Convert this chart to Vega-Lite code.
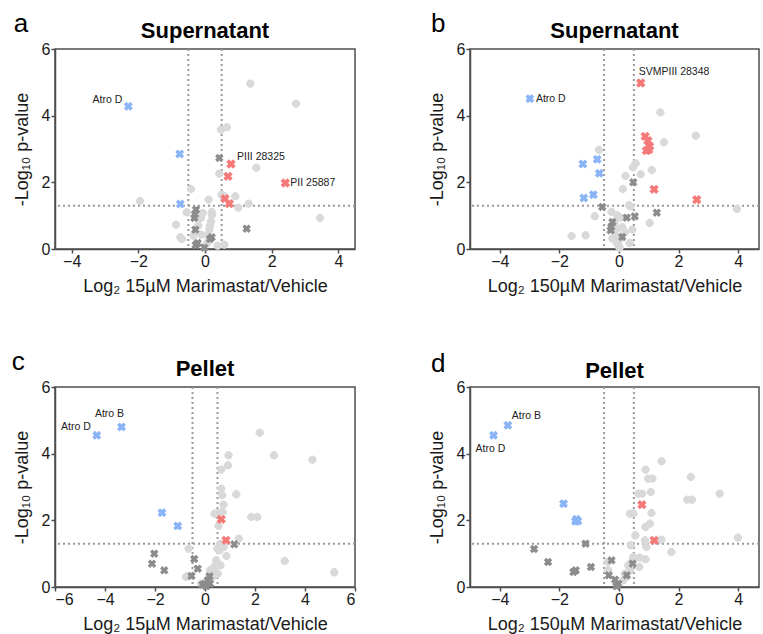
{
"$schema":"https://vega.github.io/schema/vega-lite/v6.json",
"background":"white",
"padding":{"left":11,"top":9,"right":0,"bottom":3},
"columns":2,
"spacing":{"row":52,"column":70},
"config":{
 "font":"Liberation Sans",
 "view":{"stroke":"#4d4d4d","strokeWidth":1.5},
 "axis":{"grid":false,"domainColor":"#4d4d4d","domainWidth":1.5,"tickColor":"#4d4d4d","tickWidth":1.5,"tickSize":4,"labelFontSize":16,"labelColor":"#1a1a1a","titleFontSize":18,"titleFontWeight":"normal","titleColor":"#1a1a1a"},
 "axisX":{"labelPadding":0,"titlePadding":8},
 "axisY":{"labelPadding":1,"titlePadding":10},
 "title":{"fontSize":22,"fontWeight":"bold","color":"#000","frame":"group","offset":8,"dy":40},
 "legend":{"disable":true}
},
"datasets":{
 "a":[
  {"x":1.36,"y":4.96,"c":"other"},{"x":2.73,"y":4.36,"c":"other"},{"x":0.66,"y":3.65,"c":"other"},{"x":0.48,"y":3.58,"c":"other"},{"x":0.43,"y":2.26,"c":"other"},{"x":1.54,"y":2.44,"c":"other"},{"x":-0.42,"y":1.8,"c":"other"},{"x":0.5,"y":1.63,"c":"other"},{"x":0.58,"y":1.58,"c":"other"},{"x":0.91,"y":1.58,"c":"other"},{"x":0.11,"y":1.48,"c":"other"},{"x":1.31,"y":1.36,"c":"other"},{"x":1.0,"y":1.24,"c":"other"},{"x":-1.95,"y":1.44,"c":"other"},{"x":3.45,"y":0.93,"c":"other"},{"x":-0.87,"y":0.73,"c":"other"},{"x":-0.74,"y":0.35,"c":"other"},{"x":-0.69,"y":0.3,"c":"other"},{"x":0.2,"y":1.11,"c":"other"},{"x":0.21,"y":1.02,"c":"other"},{"x":0.18,"y":0.83,"c":"other"},{"x":0.15,"y":0.7,"c":"other"},{"x":0.13,"y":0.58,"c":"other"},{"x":0.08,"y":0.43,"c":"other"},{"x":-0.12,"y":0.93,"c":"other"},{"x":-0.55,"y":1.1,"c":"other"},{"x":0.58,"y":0.13,"c":"other"},{"x":-0.12,"y":0.43,"c":"other"},{"x":0.38,"y":0.1,"c":"other"},{"x":-0.07,"y":1.08,"c":"other"},{"x":0.1,"y":0.25,"c":"other"},{"x":-0.35,"y":0.4,"c":"other"},{"x":-0.2,"y":0.7,"c":"other"},{"x":0.05,"y":0.15,"c":"other"},
  {"x":0.43,"y":2.73,"c":"svmp"},{"x":-0.27,"y":1.18,"c":"svmp"},{"x":-0.3,"y":1.05,"c":"svmp"},{"x":-0.32,"y":0.93,"c":"svmp"},{"x":-0.29,"y":0.58,"c":"svmp"},{"x":1.25,"y":0.61,"c":"svmp"},{"x":-0.22,"y":0.18,"c":"svmp"},{"x":-0.02,"y":0.04,"c":"svmp"},{"x":0.15,"y":0.3,"c":"svmp"},{"x":0.2,"y":0.35,"c":"svmp"},{"x":-0.28,"y":0.12,"c":"svmp"},
  {"x":-2.3,"y":4.28,"c":"down","label":"Atro D"},{"x":-0.76,"y":2.85,"c":"down"},{"x":-0.74,"y":1.35,"c":"down"},
  {"x":0.78,"y":2.55,"c":"up","label":"PIII 28325"},{"x":0.69,"y":2.18,"c":"up"},{"x":2.41,"y":1.98,"c":"up","label":"PII 25887"},{"x":0.6,"y":1.51,"c":"up"},{"x":0.73,"y":1.36,"c":"up"}
 ],
 "b":[
  {"x":1.39,"y":4.1,"c":"other"},{"x":2.58,"y":3.4,"c":"other"},{"x":1.51,"y":3.2,"c":"other"},{"x":-0.67,"y":2.97,"c":"other"},{"x":0.56,"y":2.57,"c":"other"},{"x":0.47,"y":2.45,"c":"other"},{"x":1.1,"y":2.37,"c":"other"},{"x":0.73,"y":2.24,"c":"other"},{"x":0.22,"y":2.19,"c":"other"},{"x":0.13,"y":1.8,"c":"other"},{"x":0.34,"y":1.31,"c":"other"},{"x":0.38,"y":1.28,"c":"other"},{"x":3.96,"y":1.2,"c":"other"},{"x":1.03,"y":0.78,"c":"other"},{"x":-1.59,"y":0.39,"c":"other"},{"x":-1.12,"y":0.41,"c":"other"},{"x":-0.81,"y":0.98,"c":"other"},{"x":-0.25,"y":1.11,"c":"other"},{"x":-0.06,"y":1.01,"c":"other"},{"x":0.06,"y":0.94,"c":"other"},{"x":0.11,"y":0.66,"c":"other"},{"x":0.45,"y":0.58,"c":"other"},{"x":-0.11,"y":0.41,"c":"other"},{"x":-0.06,"y":0.16,"c":"other"},{"x":0.02,"y":0.04,"c":"other"},{"x":0.36,"y":0.18,"c":"other"},{"x":-0.22,"y":0.31,"c":"other"},{"x":0.0,"y":0.26,"c":"other"},{"x":0.0,"y":0.08,"c":"other"},{"x":-0.06,"y":0.6,"c":"other"},{"x":-0.15,"y":0.8,"c":"other"},{"x":0.2,"y":0.5,"c":"other"},
  {"x":-0.56,"y":1.26,"c":"svmp"},{"x":0.48,"y":2.0,"c":"svmp"},{"x":1.27,"y":1.09,"c":"svmp"},{"x":0.53,"y":0.98,"c":"svmp"},{"x":0.26,"y":0.94,"c":"svmp"},{"x":-0.22,"y":0.81,"c":"svmp"},{"x":-0.26,"y":0.66,"c":"svmp"},{"x":-0.28,"y":0.56,"c":"svmp"},{"x":0.11,"y":0.36,"c":"svmp"},
  {"x":-2.99,"y":4.51,"c":"down","label":"Atro D"},{"x":-1.21,"y":2.55,"c":"down"},{"x":-0.73,"y":2.69,"c":"down"},{"x":-0.66,"y":2.27,"c":"down"},{"x":-1.18,"y":1.53,"c":"down"},{"x":-0.86,"y":1.63,"c":"down"},
  {"x":0.73,"y":4.98,"c":"up","label":"SVMPIII 28348"},{"x":0.88,"y":3.38,"c":"up"},{"x":0.97,"y":3.25,"c":"up"},{"x":1.03,"y":3.08,"c":"up"},{"x":0.92,"y":2.95,"c":"up"},{"x":1.0,"y":2.98,"c":"up"},{"x":1.18,"y":1.79,"c":"up"},{"x":2.61,"y":1.48,"c":"up"}
 ],
 "c":[
  {"x":2.19,"y":4.63,"c":"other"},{"x":0.94,"y":3.95,"c":"other"},{"x":2.76,"y":3.95,"c":"other"},{"x":4.3,"y":3.82,"c":"other"},{"x":0.92,"y":3.65,"c":"other"},{"x":0.65,"y":3.52,"c":"other"},{"x":0.65,"y":2.95,"c":"other"},{"x":0.69,"y":2.75,"c":"other"},{"x":1.25,"y":2.78,"c":"other"},{"x":0.74,"y":2.47,"c":"other"},{"x":0.71,"y":2.25,"c":"other"},{"x":0.38,"y":2.2,"c":"other"},{"x":0.52,"y":2.22,"c":"other"},{"x":1.85,"y":2.1,"c":"other"},{"x":2.09,"y":2.1,"c":"other"},{"x":0.54,"y":1.83,"c":"other"},{"x":1.35,"y":1.45,"c":"other"},{"x":3.19,"y":0.78,"c":"other"},{"x":5.17,"y":0.44,"c":"other"},{"x":-0.66,"y":1.15,"c":"other"},{"x":-0.76,"y":0.3,"c":"other"},{"x":-0.72,"y":0.32,"c":"other"},{"x":0.86,"y":0.93,"c":"other"},{"x":0.58,"y":1.1,"c":"other"},{"x":0.49,"y":1.15,"c":"other"},{"x":0.45,"y":0.8,"c":"other"},{"x":0.35,"y":0.6,"c":"other"},{"x":0.51,"y":0.4,"c":"other"},{"x":0.38,"y":0.5,"c":"other"},{"x":-0.15,"y":0.1,"c":"other"},{"x":0.61,"y":1.3,"c":"other"},{"x":0.75,"y":1.2,"c":"other"},{"x":0.3,"y":0.3,"c":"other"},{"x":0.2,"y":0.5,"c":"other"},{"x":0.62,"y":0.65,"c":"other"},
  {"x":1.17,"y":1.28,"c":"svmp"},{"x":-2.03,"y":1.0,"c":"svmp"},{"x":-2.12,"y":0.7,"c":"svmp"},{"x":-1.63,"y":0.5,"c":"svmp"},{"x":-0.43,"y":0.84,"c":"svmp"},{"x":-0.29,"y":0.55,"c":"svmp"},{"x":-0.54,"y":0.33,"c":"svmp"},{"x":0.18,"y":0.32,"c":"svmp"},{"x":0.11,"y":0.2,"c":"svmp"},{"x":0.0,"y":0.1,"c":"svmp"},{"x":-0.1,"y":0.07,"c":"svmp"},{"x":0.2,"y":0.1,"c":"svmp"},{"x":0.05,"y":0.02,"c":"svmp"},
  {"x":-4.33,"y":4.55,"c":"down","label":"Atro D"},{"x":-3.34,"y":4.8,"c":"down","label":"Atro B"},{"x":-1.72,"y":2.23,"c":"down"},{"x":-1.09,"y":1.83,"c":"down"},
  {"x":0.65,"y":2.03,"c":"up"},{"x":0.84,"y":1.4,"c":"up"}
 ],
 "d":[
  {"x":1.43,"y":3.77,"c":"other"},{"x":0.89,"y":3.52,"c":"other"},{"x":0.98,"y":3.25,"c":"other"},{"x":1.12,"y":3.25,"c":"other"},{"x":2.41,"y":3.3,"c":"other"},{"x":1.07,"y":2.85,"c":"other"},{"x":0.65,"y":2.8,"c":"other"},{"x":0.78,"y":2.8,"c":"other"},{"x":3.38,"y":2.8,"c":"other"},{"x":2.29,"y":2.62,"c":"other"},{"x":2.45,"y":2.62,"c":"other"},{"x":1.09,"y":2.22,"c":"other"},{"x":0.37,"y":2.2,"c":"other"},{"x":0.48,"y":2.2,"c":"other"},{"x":1.04,"y":1.9,"c":"other"},{"x":0.89,"y":1.8,"c":"other"},{"x":0.55,"y":1.55,"c":"other"},{"x":0.4,"y":1.25,"c":"other"},{"x":0.92,"y":1.2,"c":"other"},{"x":1.42,"y":1.42,"c":"other"},{"x":1.76,"y":1.05,"c":"other"},{"x":3.99,"y":1.48,"c":"other"},{"x":0.7,"y":0.88,"c":"other"},{"x":0.89,"y":0.83,"c":"other"},{"x":0.48,"y":0.9,"c":"other"},{"x":0.45,"y":0.78,"c":"other"},{"x":0.68,"y":0.6,"c":"other"},{"x":-0.38,"y":0.75,"c":"other"},{"x":0.31,"y":0.65,"c":"other"},{"x":0.25,"y":0.3,"c":"other"},{"x":0.37,"y":0.5,"c":"other"},{"x":0.14,"y":0.2,"c":"other"},{"x":0.87,"y":1.4,"c":"other"},{"x":-0.36,"y":0.5,"c":"other"},{"x":0.2,"y":0.4,"c":"other"},
  {"x":-2.85,"y":1.14,"c":"svmp"},{"x":-2.38,"y":0.75,"c":"svmp"},{"x":-1.12,"y":1.3,"c":"svmp"},{"x":-1.53,"y":0.45,"c":"svmp"},{"x":-1.45,"y":0.5,"c":"svmp"},{"x":-0.94,"y":0.6,"c":"svmp"},{"x":-0.25,"y":0.8,"c":"svmp"},{"x":0.46,"y":0.7,"c":"svmp"},{"x":-0.34,"y":0.35,"c":"svmp"},{"x":0.26,"y":0.35,"c":"svmp"},{"x":-0.13,"y":0.22,"c":"svmp"},{"x":-0.02,"y":0.1,"c":"svmp"},{"x":-0.08,"y":0.02,"c":"svmp"},
  {"x":-4.21,"y":4.55,"c":"down","label":"Atro D"},{"x":-3.73,"y":4.85,"c":"down","label":"Atro B"},{"x":-1.86,"y":2.5,"c":"down"},{"x":-1.43,"y":2.03,"c":"down"},{"x":-1.38,"y":1.98,"c":"down"},{"x":-1.46,"y":1.97,"c":"down"},
  {"x":0.77,"y":2.47,"c":"up"},{"x":1.18,"y":1.4,"c":"up"}
 ]
},
"concat":[
 {"width":300,"height":200,"title":{"text":"Supernatant"},
  "layer":[
   {"data":{"values":[{}]},"mark":{"type":"rule","strokeDash":[2,3],"strokeWidth":2,"color":"#9a9a9a"},"encoding":{"x":{"datum":-0.5,"type":"quantitative","scale":{"domain":[-4.5,4.5],"nice":false,"zero":false}}}},
   {"data":{"values":[{}]},"mark":{"type":"rule","strokeDash":[2,3],"strokeWidth":2,"color":"#9a9a9a"},"encoding":{"x":{"datum":0.5,"type":"quantitative","scale":{"domain":[-4.5,4.5],"nice":false,"zero":false}}}},
   {"data":{"values":[{}]},"mark":{"type":"rule","strokeDash":[2,3],"strokeWidth":2,"color":"#9a9a9a"},"encoding":{"y":{"datum":1.3,"type":"quantitative","scale":{"domain":[0,6],"nice":false,"zero":false}}}},
   {"data":{"name":"a"},"mark":{"type":"point","filled":true,"opacity":1,"angle":45},
    "encoding":{
     "x":{"field":"x","type":"quantitative","scale":{"domain":[-4.5,4.5],"nice":false,"zero":false},"axis":{"title":"Log₂ 15µM Marimastat/Vehicle","values":[-4,-2,0,2,4]}},
     "y":{"field":"y","type":"quantitative","scale":{"domain":[0,6],"nice":false,"zero":false},"axis":{"title":"-Log₁₀ p-value","values":[0,2,4,6]}},
     "color":{"field":"c","type":"nominal","scale":{"domain":["other","svmp","down","up"],"range":["#d9d9d9","#8c8c8c","#8ab4f5","#f47a7a"]},"legend":null},
     "shape":{"field":"c","type":"nominal","scale":{"domain":["other","svmp","down","up"],"range":["circle","cross","cross","cross"]},"legend":null},
     "size":{"field":"c","type":"nominal","scale":{"domain":["other","svmp","down","up"],"range":[65,90,90,90]},"legend":null}}},
   {"data":{"name":"a"},"transform":[{"filter":"datum.label == 'Atro D'"}],"mark":{"type":"text","fontSize":10.5,"color":"#222","align":"right","baseline":"middle","dx":-6,"dy":-6},"encoding":{"x":{"field":"x","type":"quantitative","scale":{"domain":[-4.5,4.5],"nice":false,"zero":false}},"y":{"field":"y","type":"quantitative","scale":{"domain":[0,6],"nice":false,"zero":false}},"text":{"field":"label"}}},
   {"data":{"name":"a"},"transform":[{"filter":"datum.label == 'PIII 28325'"}],"mark":{"type":"text","fontSize":10.5,"color":"#222","align":"left","baseline":"middle","dx":6,"dy":-7},"encoding":{"x":{"field":"x","type":"quantitative","scale":{"domain":[-4.5,4.5],"nice":false,"zero":false}},"y":{"field":"y","type":"quantitative","scale":{"domain":[0,6],"nice":false,"zero":false}},"text":{"field":"label"}}},
   {"data":{"name":"a"},"transform":[{"filter":"datum.label == 'PII 25887'"}],"mark":{"type":"text","fontSize":10.5,"color":"#222","align":"left","baseline":"middle","dx":5,"dy":0},"encoding":{"x":{"field":"x","type":"quantitative","scale":{"domain":[-4.5,4.5],"nice":false,"zero":false}},"y":{"field":"y","type":"quantitative","scale":{"domain":[0,6],"nice":false,"zero":false}},"text":{"field":"label"}}},
   {"data":{"values":[{}]},"mark":{"type":"text","fontSize":26,"color":"#000","align":"center","baseline":"alphabetic"},"encoding":{"x":{"datum":-5.52,"type":"quantitative","scale":{"domain":[-4.5,4.5],"nice":false,"zero":false}},"y":{"datum":6.52,"type":"quantitative","scale":{"domain":[0,6],"nice":false,"zero":false}},"text":{"value":"a"}}}
  ]},
 {"width":289,"height":200,"title":{"text":"Supernatant"},
  "layer":[
   {"data":{"values":[{}]},"mark":{"type":"rule","strokeDash":[2,3],"strokeWidth":2,"color":"#9a9a9a"},"encoding":{"x":{"datum":-0.5,"type":"quantitative","scale":{"domain":[-5,4.7],"nice":false,"zero":false}}}},
   {"data":{"values":[{}]},"mark":{"type":"rule","strokeDash":[2,3],"strokeWidth":2,"color":"#9a9a9a"},"encoding":{"x":{"datum":0.5,"type":"quantitative","scale":{"domain":[-5,4.7],"nice":false,"zero":false}}}},
   {"data":{"values":[{}]},"mark":{"type":"rule","strokeDash":[2,3],"strokeWidth":2,"color":"#9a9a9a"},"encoding":{"y":{"datum":1.3,"type":"quantitative","scale":{"domain":[0,6],"nice":false,"zero":false}}}},
   {"data":{"name":"b"},"mark":{"type":"point","filled":true,"opacity":1,"angle":45},
    "encoding":{
     "x":{"field":"x","type":"quantitative","scale":{"domain":[-5,4.7],"nice":false,"zero":false},"axis":{"title":"Log₂ 150µM Marimastat/Vehicle","values":[-4,-2,0,2,4]}},
     "y":{"field":"y","type":"quantitative","scale":{"domain":[0,6],"nice":false,"zero":false},"axis":{"title":"-Log₁₀ p-value","values":[0,2,4,6]}},
     "color":{"field":"c","type":"nominal","scale":{"domain":["other","svmp","down","up"],"range":["#d9d9d9","#8c8c8c","#8ab4f5","#f47a7a"]},"legend":null},
     "shape":{"field":"c","type":"nominal","scale":{"domain":["other","svmp","down","up"],"range":["circle","cross","cross","cross"]},"legend":null},
     "size":{"field":"c","type":"nominal","scale":{"domain":["other","svmp","down","up"],"range":[65,90,90,90]},"legend":null}}},
   {"data":{"name":"b"},"transform":[{"filter":"datum.label == 'SVMPIII 28348'"}],"mark":{"type":"text","fontSize":10.5,"color":"#222","align":"left","baseline":"middle","dx":-2,"dy":-11},"encoding":{"x":{"field":"x","type":"quantitative","scale":{"domain":[-5,4.7],"nice":false,"zero":false}},"y":{"field":"y","type":"quantitative","scale":{"domain":[0,6],"nice":false,"zero":false}},"text":{"field":"label"}}},
   {"data":{"name":"b"},"transform":[{"filter":"datum.label == 'Atro D'"}],"mark":{"type":"text","fontSize":10.5,"color":"#222","align":"left","baseline":"middle","dx":6,"dy":0},"encoding":{"x":{"field":"x","type":"quantitative","scale":{"domain":[-5,4.7],"nice":false,"zero":false}},"y":{"field":"y","type":"quantitative","scale":{"domain":[0,6],"nice":false,"zero":false}},"text":{"field":"label"}}},
   {"data":{"values":[{}]},"mark":{"type":"text","fontSize":26,"color":"#000","align":"center","baseline":"alphabetic"},"encoding":{"x":{"datum":-6.07,"type":"quantitative","scale":{"domain":[-5,4.7],"nice":false,"zero":false}},"y":{"datum":6.52,"type":"quantitative","scale":{"domain":[0,6],"nice":false,"zero":false}},"text":{"value":"b"}}}
  ]},
 {"width":300,"height":200,"title":{"text":"Pellet"},
  "layer":[
   {"data":{"values":[{}]},"mark":{"type":"rule","strokeDash":[2,3],"strokeWidth":2,"color":"#9a9a9a"},"encoding":{"x":{"datum":-0.5,"type":"quantitative","scale":{"domain":[-6,6],"nice":false,"zero":false}}}},
   {"data":{"values":[{}]},"mark":{"type":"rule","strokeDash":[2,3],"strokeWidth":2,"color":"#9a9a9a"},"encoding":{"x":{"datum":0.5,"type":"quantitative","scale":{"domain":[-6,6],"nice":false,"zero":false}}}},
   {"data":{"values":[{}]},"mark":{"type":"rule","strokeDash":[2,3],"strokeWidth":2,"color":"#9a9a9a"},"encoding":{"y":{"datum":1.3,"type":"quantitative","scale":{"domain":[0,6],"nice":false,"zero":false}}}},
   {"data":{"name":"c"},"mark":{"type":"point","filled":true,"opacity":1,"angle":45},
    "encoding":{
     "x":{"field":"x","type":"quantitative","scale":{"domain":[-6,6],"nice":false,"zero":false},"axis":{"title":"Log₂ 15µM Marimastat/Vehicle","values":[-6,-4,-2,0,2,4,6]}},
     "y":{"field":"y","type":"quantitative","scale":{"domain":[0,6],"nice":false,"zero":false},"axis":{"title":"-Log₁₀ p-value","values":[0,2,4,6]}},
     "color":{"field":"c","type":"nominal","scale":{"domain":["other","svmp","down","up"],"range":["#d9d9d9","#8c8c8c","#8ab4f5","#f47a7a"]},"legend":null},
     "shape":{"field":"c","type":"nominal","scale":{"domain":["other","svmp","down","up"],"range":["circle","cross","cross","cross"]},"legend":null},
     "size":{"field":"c","type":"nominal","scale":{"domain":["other","svmp","down","up"],"range":[65,90,90,90]},"legend":null}}},
   {"data":{"name":"c"},"transform":[{"filter":"datum.label == 'Atro D'"}],"mark":{"type":"text","fontSize":10.5,"color":"#222","align":"right","baseline":"middle","dx":-6,"dy":-8},"encoding":{"x":{"field":"x","type":"quantitative","scale":{"domain":[-6,6],"nice":false,"zero":false}},"y":{"field":"y","type":"quantitative","scale":{"domain":[0,6],"nice":false,"zero":false}},"text":{"field":"label"}}},
   {"data":{"name":"c"},"transform":[{"filter":"datum.label == 'Atro B'"}],"mark":{"type":"text","fontSize":10.5,"color":"#222","align":"center","baseline":"middle","dx":-12,"dy":-13},"encoding":{"x":{"field":"x","type":"quantitative","scale":{"domain":[-6,6],"nice":false,"zero":false}},"y":{"field":"y","type":"quantitative","scale":{"domain":[0,6],"nice":false,"zero":false}},"text":{"field":"label"}}},
   {"data":{"values":[{}]},"mark":{"type":"text","fontSize":26,"color":"#000","align":"center","baseline":"alphabetic"},"encoding":{"x":{"datum":-7.47,"type":"quantitative","scale":{"domain":[-6,6],"nice":false,"zero":false}},"y":{"datum":6.5,"type":"quantitative","scale":{"domain":[0,6],"nice":false,"zero":false}},"text":{"value":"c"}}}
  ]},
 {"width":289,"height":200,"title":{"text":"Pellet"},
  "layer":[
   {"data":{"values":[{}]},"mark":{"type":"rule","strokeDash":[2,3],"strokeWidth":2,"color":"#9a9a9a"},"encoding":{"x":{"datum":-0.5,"type":"quantitative","scale":{"domain":[-5,4.7],"nice":false,"zero":false}}}},
   {"data":{"values":[{}]},"mark":{"type":"rule","strokeDash":[2,3],"strokeWidth":2,"color":"#9a9a9a"},"encoding":{"x":{"datum":0.5,"type":"quantitative","scale":{"domain":[-5,4.7],"nice":false,"zero":false}}}},
   {"data":{"values":[{}]},"mark":{"type":"rule","strokeDash":[2,3],"strokeWidth":2,"color":"#9a9a9a"},"encoding":{"y":{"datum":1.3,"type":"quantitative","scale":{"domain":[0,6],"nice":false,"zero":false}}}},
   {"data":{"name":"d"},"mark":{"type":"point","filled":true,"opacity":1,"angle":45},
    "encoding":{
     "x":{"field":"x","type":"quantitative","scale":{"domain":[-5,4.7],"nice":false,"zero":false},"axis":{"title":"Log₂ 150µM Marimastat/Vehicle","values":[-4,-2,0,2,4]}},
     "y":{"field":"y","type":"quantitative","scale":{"domain":[0,6],"nice":false,"zero":false},"axis":{"title":"-Log₁₀ p-value","values":[0,2,4,6]}},
     "color":{"field":"c","type":"nominal","scale":{"domain":["other","svmp","down","up"],"range":["#d9d9d9","#8c8c8c","#8ab4f5","#f47a7a"]},"legend":null},
     "shape":{"field":"c","type":"nominal","scale":{"domain":["other","svmp","down","up"],"range":["circle","cross","cross","cross"]},"legend":null},
     "size":{"field":"c","type":"nominal","scale":{"domain":["other","svmp","down","up"],"range":[65,90,90,90]},"legend":null}}},
   {"data":{"name":"d"},"transform":[{"filter":"datum.label == 'Atro B'"}],"mark":{"type":"text","fontSize":10.5,"color":"#222","align":"left","baseline":"middle","dx":4,"dy":-9},"encoding":{"x":{"field":"x","type":"quantitative","scale":{"domain":[-5,4.7],"nice":false,"zero":false}},"y":{"field":"y","type":"quantitative","scale":{"domain":[0,6],"nice":false,"zero":false}},"text":{"field":"label"}}},
   {"data":{"name":"d"},"transform":[{"filter":"datum.label == 'Atro D'"}],"mark":{"type":"text","fontSize":10.5,"color":"#222","align":"left","baseline":"middle","dx":-18,"dy":14},"encoding":{"x":{"field":"x","type":"quantitative","scale":{"domain":[-5,4.7],"nice":false,"zero":false}},"y":{"field":"y","type":"quantitative","scale":{"domain":[0,6],"nice":false,"zero":false}},"text":{"field":"label"}}},
   {"data":{"values":[{}]},"mark":{"type":"text","fontSize":26,"color":"#000","align":"center","baseline":"alphabetic"},"encoding":{"x":{"datum":-6.07,"type":"quantitative","scale":{"domain":[-5,4.7],"nice":false,"zero":false}},"y":{"datum":6.45,"type":"quantitative","scale":{"domain":[0,6],"nice":false,"zero":false}},"text":{"value":"d"}}}
  ]}
]
}
